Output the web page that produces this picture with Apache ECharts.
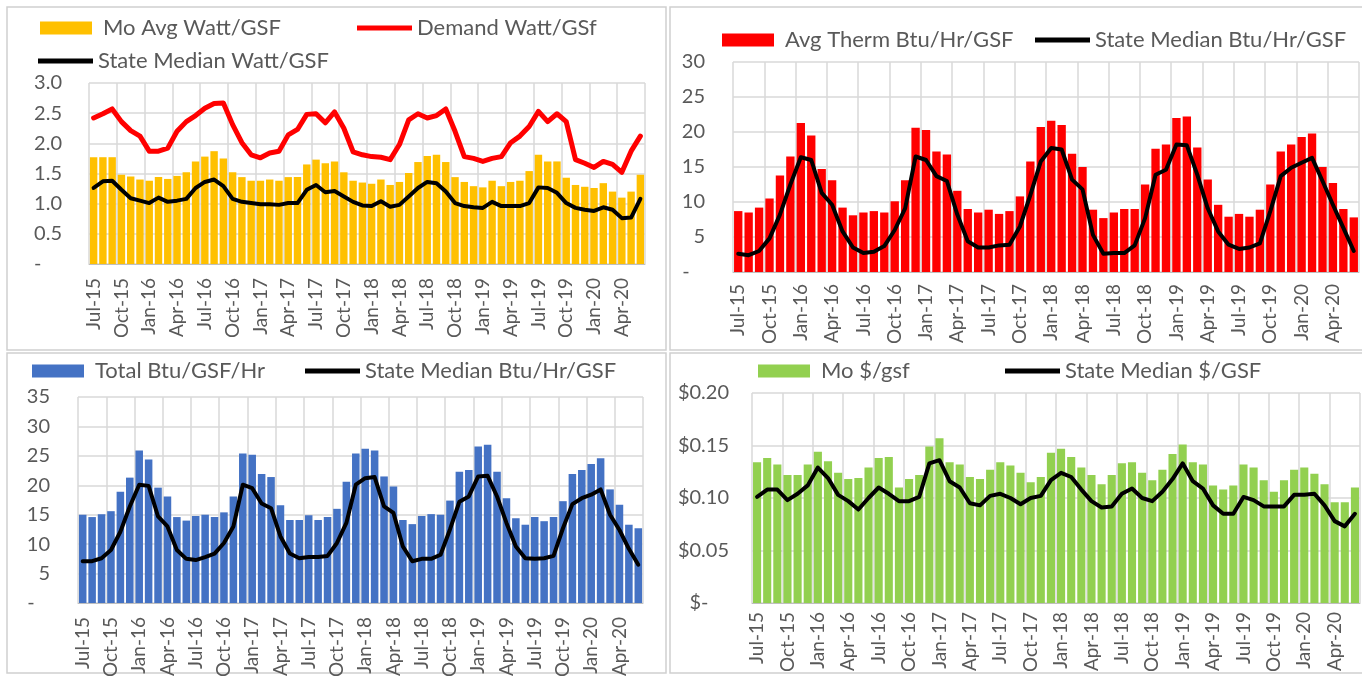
<!DOCTYPE html>
<html>
<head>
<meta charset="utf-8">
<script src="https://cdn.jsdelivr.net/npm/echarts@6/dist/echarts.min.js"></script>
<style>
html,body{margin:0;padding:0;background:#fff;}
#c{width:1362px;height:681px;}
</style>
</head>
<body>
<div id="c"></div>
<script>
const months = ['Jul-15','Aug-15','Sep-15','Oct-15','Nov-15','Dec-15','Jan-16','Feb-16','Mar-16','Apr-16','May-16','Jun-16',
'Jul-16','Aug-16','Sep-16','Oct-16','Nov-16','Dec-16','Jan-17','Feb-17','Mar-17','Apr-17','May-17','Jun-17',
'Jul-17','Aug-17','Sep-17','Oct-17','Nov-17','Dec-17','Jan-18','Feb-18','Mar-18','Apr-18','May-18','Jun-18',
'Jul-18','Aug-18','Sep-18','Oct-18','Nov-18','Dec-18','Jan-19','Feb-19','Mar-19','Apr-19','May-19','Jun-19',
'Jul-19','Aug-19','Sep-19','Oct-19','Nov-19','Dec-19','Jan-20','Feb-20','Mar-20','Apr-20','May-20','Jun-20'];

// Panel 1: electricity
const moAvgWatt = [1.77,1.77,1.77,1.48,1.45,1.40,1.38,1.44,1.41,1.46,1.52,1.70,1.78,1.87,1.75,1.52,1.44,1.38,1.38,1.40,1.38,1.44,1.44,1.65,1.73,1.67,1.70,
1.52,1.38,1.35,1.33,1.40,1.31,1.36,1.51,1.69,1.79,1.81,1.69,1.44,1.36,1.29,1.27,1.38,1.29,1.36,1.38,1.54,1.81,1.70,1.70,1.43,1.31,1.28,1.26,1.34,1.20,1.10,1.20,1.48];
const demandWatt = [2.42,2.49,2.57,2.36,2.21,2.12,1.87,1.87,1.92,2.20,2.36,2.46,2.58,2.66,2.67,2.31,2.01,1.81,1.76,1.84,1.87,2.14,2.23,2.48,2.49,2.34,2.52,
2.25,1.86,1.81,1.78,1.77,1.73,1.98,2.39,2.49,2.42,2.46,2.57,2.20,1.78,1.75,1.70,1.75,1.78,2.01,2.12,2.28,2.53,2.36,2.49,2.36,1.73,1.67,1.60,1.70,1.65,1.52,1.87,2.12];
const medianWatt = [1.26,1.37,1.38,1.23,1.09,1.05,1.01,1.10,1.03,1.05,1.08,1.26,1.36,1.40,1.29,1.08,1.03,1.01,0.99,0.99,0.98,1.01,1.01,1.23,1.31,1.19,1.21,
1.12,1.03,0.97,0.96,1.04,0.95,0.98,1.12,1.26,1.36,1.34,1.20,1.01,0.96,0.94,0.93,1.03,0.96,0.96,0.96,1.01,1.27,1.26,1.18,1.01,0.93,0.90,0.88,0.94,0.90,0.76,0.77,1.08];

// Panel 2: thermal
const avgTherm = [8.7,8.5,9.2,10.5,13.8,16.5,21.3,19.5,14.7,13.1,9.2,8.1,8.5,8.7,8.5,10.1,13.1,20.6,20.3,17.2,16.8,11.6,9.0,8.5,8.9,8.3,8.7,
10.8,15.8,20.7,21.6,21.0,16.9,15.0,8.9,7.7,8.5,9.0,9.0,12.5,17.6,18.2,22.0,22.2,17.8,13.2,9.6,7.9,8.3,7.9,8.9,12.5,17.2,18.2,19.3,19.8,15.0,12.7,9.0,7.8];
const medianTherm = [2.6,2.4,3.0,4.8,8.2,12.5,16.4,16.0,11.3,9.6,5.8,3.5,2.7,2.9,3.7,6.0,9.1,16.5,16.0,13.7,13.0,8.2,4.4,3.5,3.5,3.8,3.9,
6.5,11.0,15.8,17.7,17.5,13.2,11.8,5.3,2.6,2.7,2.7,3.8,7.7,13.9,14.6,18.2,18.1,13.9,9.1,5.8,3.9,3.3,3.5,4.1,8.7,13.7,14.9,15.6,16.3,13.0,9.6,6.3,3.0];

// Panel 3: total
const totalBtu = [15.0,14.6,15.1,15.6,18.9,21.3,25.9,24.4,19.6,18.1,14.6,14.0,14.8,15.0,14.6,15.4,18.1,25.4,25.2,21.9,21.4,16.6,14.1,14.1,14.9,14.1,14.6,
16.0,20.6,25.4,26.2,25.9,21.5,19.8,14.1,13.4,14.8,15.1,15.0,17.4,22.3,22.6,26.6,26.9,22.3,17.8,14.4,13.3,14.6,13.9,14.6,17.3,21.9,22.6,23.6,24.6,19.3,16.7,13.3,12.7];
const medianTotal = [7.1,7.1,7.6,9.0,12.1,16.4,20.1,19.9,14.7,13.0,9.0,7.5,7.3,7.8,8.4,10.2,13.0,20.1,19.5,16.9,16.1,11.3,8.4,7.6,7.8,7.8,8.0,
10.2,13.6,20.1,21.2,21.4,16.4,15.3,9.6,7.1,7.5,7.5,8.2,12.5,17.2,18.1,21.5,21.6,18.1,13.6,9.6,7.6,7.5,7.6,8.0,12.7,16.8,17.8,18.4,19.3,15.0,12.4,9.2,6.5];

// Panel 4: cost
const moCost = [0.134,0.138,0.132,0.122,0.122,0.132,0.144,0.135,0.124,0.118,0.119,0.129,0.138,0.139,0.110,0.118,0.122,0.149,0.157,0.134,0.132,0.120,0.118,0.127,0.134,
0.131,0.124,0.115,0.120,0.143,0.147,0.139,0.129,0.122,0.113,0.122,0.133,0.134,0.124,0.117,0.127,0.142,0.151,0.134,0.132,0.112,0.108,0.112,0.132,0.129,0.117,0.106,0.117,0.127,0.129,0.123,0.113,0.096,0.096,0.110];
const medianCost = [0.101,0.108,0.108,0.098,0.104,0.112,0.129,0.119,0.103,0.097,0.089,0.100,0.110,0.104,0.097,0.097,0.101,0.133,0.136,0.116,0.110,0.095,0.093,0.102,0.104,0.100,
0.094,0.100,0.102,0.117,0.124,0.120,0.108,0.097,0.091,0.092,0.104,0.109,0.100,0.097,0.106,0.118,0.133,0.116,0.109,0.093,0.085,0.085,0.101,0.098,0.092,0.092,0.092,0.103,0.103,0.104,0.093,0.078,0.073,0.085];

const FONT = 'Lato';
const TXT = '#595959';
const GRIDC = '#d9d9d9';

const grids = [
  {left:89, top:83, width:556, height:181},
  {left:733, top:62, width:626, height:210},
  {left:78, top:397, width:565, height:206},
  {left:752, top:393, width:608, height:210}
];
const xMargins = [14, 12, 14, 9];
const yMargins = [27, 28, 28, 23];
const yCfg = [
  {max:3, interval:0.5, fmt: v => v === 0 ? '-    ' : v.toFixed(1)},
  {max:30, interval:5, fmt: v => v === 0 ? '-   ' : String(v)},
  {max:35, interval:5, fmt: v => v === 0 ? '-   ' : String(v)},
  {max:0.2, interval:0.05, fmt: v => v === 0 ? '$-    ' : '$' + v.toFixed(2)}
];

const xAxes = grids.map((g, i) => ({
  type:'category', gridIndex:i, data:months, boundaryGap:true,
  axisLine:{show:true, lineStyle:{color:'#bfbfbf', width:1}},
  axisTick:{show:false, interval:2},
  axisLabel:{interval:2, rotate:90, margin:xMargins[i], color:TXT, fontFamily:FONT, fontSize:19},
  splitLine:{show:true, interval:2, lineStyle:{color:GRIDC, width:1.5}}
}));
const yAxes = grids.map((g, i) => ({
  type:'value', gridIndex:i, min:0, max:yCfg[i].max, interval:yCfg[i].interval,
  axisLine:{show:false}, axisTick:{show:false},
  axisLabel:{margin:yMargins[i], color:TXT, fontFamily:FONT, fontSize:20, formatter:yCfg[i].fmt},
  splitLine:{show:true, lineStyle:{color:GRIDC, width:1.5}}
}));

function bar(name, data, idx, color){
  return {type:'bar', name, data, xAxisIndex:idx, yAxisIndex:idx, barCategoryGap:'20%',
    itemStyle:{color}, emphasis:{disabled:true}, animation:false};
}
function line(name, data, idx, color, w){
  return {type:'line', name, data, xAxisIndex:idx, yAxisIndex:idx, showSymbol:false, symbol:'none',
    lineStyle:{color, width:w, join:'round', cap:'round'}, itemStyle:{color}, emphasis:{disabled:true}, animation:false, z:5};
}

const series = [
  bar('Mo Avg Watt/GSF', moAvgWatt, 0, '#FFC000'),
  line('Demand Watt/GSf', demandWatt, 0, '#FF0000', 5),
  line('State Median Watt/GSF', medianWatt, 0, '#000000', 4),
  bar('Avg Therm Btu/Hr/GSF', avgTherm, 1, '#FF0000'),
  line('State Median Btu/Hr/GSF', medianTherm, 1, '#000000', 4),
  bar('Total Btu/GSF/Hr', totalBtu, 2, '#4472C4'),
  line('State Median Btu/Hr/GSF', medianTotal, 2, '#000000', 4),
  bar('Mo $/gsf', moCost, 3, '#92D050'),
  line('State Median $/GSF', medianCost, 3, '#000000', 4)
];

function leg(name, left, top, isBar){
  return {
    data:[{name, icon:'rect'}], left, top, padding:0, orient:'horizontal',
    itemWidth: isBar ? 52 : 55, itemHeight: isBar ? 13 : 5,
    selectedMode:false,
    textStyle:{color:TXT, fontFamily:FONT, fontSize:22, padding: isBar ? [0,0,0,6] : [0,0,0,0]}
  };
}
const legends = [
  leg('Mo Avg Watt/GSF', 40, 17, true),
  leg('Demand Watt/GSf', 357, 17, false),
  leg('State Median Watt/GSF', 38, 50, false),
  leg('Avg Therm Btu/Hr/GSF', 722, 29, true),
  leg('State Median Btu/Hr/GSF', 1035, 29, false),
  leg('Total Btu/GSF/Hr', 32, 360, true),
  leg('State Median Btu/Hr/GSF', 305, 360, false),
  leg('Mo $/gsf', 758, 360, true),
  leg('State Median $/GSF', 1005, 360, false)
];

const border = {stroke:'#d0d0d0', fill:null, lineWidth:1.5};
const option = {
  animation:false,
  backgroundColor:'#ffffff',
  grid: grids.map(g => Object.assign({containLabel:false}, g)),
  xAxis: xAxes,
  yAxis: yAxes,
  legend: legends,
  series,
  graphic: [
    {type:'rect', shape:{x:7, y:7, width:659, height:343}, style:border, silent:true},
    {type:'rect', shape:{x:670, y:7, width:700, height:343}, style:border, silent:true},
    {type:'rect', shape:{x:7, y:353, width:659, height:320}, style:border, silent:true},
    {type:'rect', shape:{x:670, y:353, width:700, height:320}, style:border, silent:true}
  ]
};
const chart = echarts.init(document.getElementById('c'), null, {renderer:'canvas'});
chart.setOption(option);
</script>
</body>
</html>
